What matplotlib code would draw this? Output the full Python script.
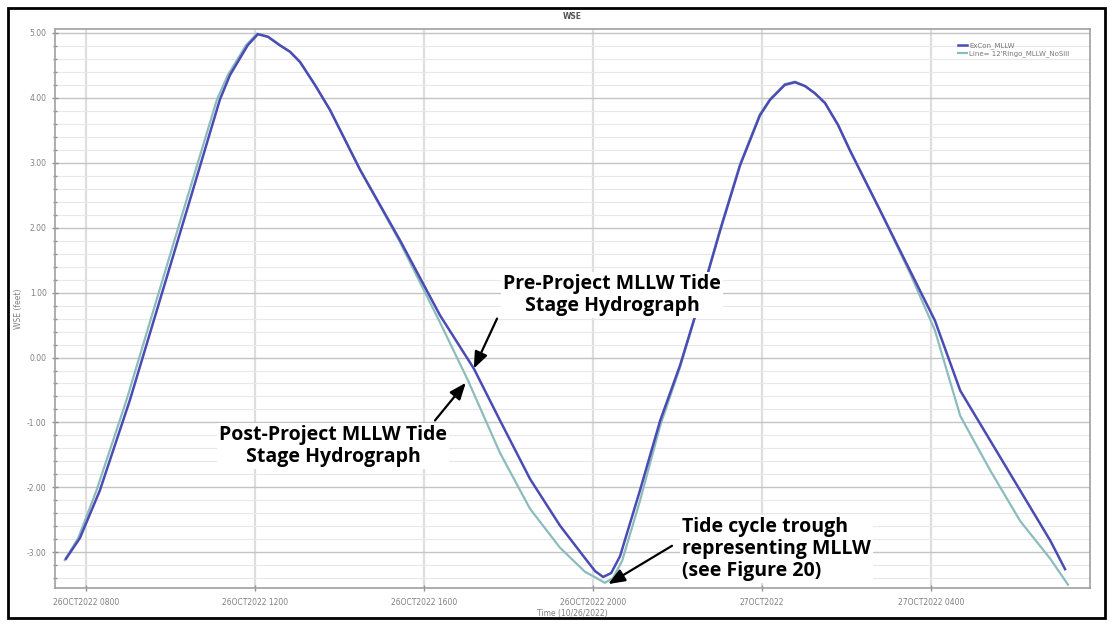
import matplotlib
matplotlib.use("Agg")
import matplotlib.pyplot as plt
from matplotlib.patches import Rectangle
from matplotlib.ticker import MultipleLocator

# ---- data (hours after 26OCT2022 00:00, WSE in feet) ----
pre_hours = [7.53, 7.86, 8.33, 9.04, 9.75, 10.46, 11.17, 11.41, 11.83, 12.07, 12.31, 12.59,
             12.83, 13.07, 13.42, 13.78, 14.49, 15.43, 16.38, 17.18, 17.80, 18.51, 19.22,
             19.81, 20.05, 20.24, 20.43, 20.64, 21.11, 21.59, 22.06, 22.53, 23.01, 23.48,
             23.95, 24.19, 24.54, 24.78, 25.02, 25.25, 25.49, 25.80, 26.08, 26.79, 27.50,
             28.09, 28.69, 29.40, 30.11, 30.82, 31.17]
pre_wse = [-3.10, -2.78, -2.05, -0.66, 0.88, 2.42, 3.97, 4.35, 4.81, 4.98, 4.94, 4.81,
           4.71, 4.55, 4.20, 3.81, 2.89, 1.81, 0.65, -0.17, -0.97, -1.87, -2.59,
           -3.09, -3.29, -3.38, -3.32, -3.06, -2.05, -0.97, -0.12, 0.88, 1.96, 2.96,
           3.73, 3.97, 4.20, 4.24, 4.18, 4.07, 3.92, 3.58, 3.19, 2.27, 1.34,
           0.57, -0.51, -1.28, -2.05, -2.82, -3.26]

post_hours = [7.50, 7.82, 8.25, 8.96, 9.67, 10.38, 11.10, 11.36, 11.79, 12.05, 12.31, 12.59,
              12.83, 13.07, 13.42, 13.78, 14.49, 15.43, 16.38, 17.04, 17.80, 18.51, 19.22,
              19.81, 20.09, 20.28, 20.47, 20.69, 21.11, 21.59, 22.06, 22.53, 23.01, 23.48,
              23.95, 24.19, 24.54, 24.78, 25.02, 25.25, 25.49, 25.80, 26.08, 26.79, 27.50,
              28.09, 28.69, 29.40, 30.11, 30.82, 31.24]
post_wse = [-3.12, -2.78, -2.05, -0.66, 0.88, 2.42, 3.97, 4.35, 4.81, 4.99, 4.94, 4.81,
            4.71, 4.55, 4.20, 3.81, 2.89, 1.78, 0.54, -0.35, -1.47, -2.33, -2.93,
            -3.30, -3.40, -3.47, -3.40, -3.13, -2.21, -1.05, -0.15, 0.88, 1.98, 2.98,
            3.75, 3.98, 4.21, 4.25, 4.18, 4.07, 3.92, 3.58, 3.19, 2.27, 1.30,
            0.42, -0.90, -1.74, -2.52, -3.10, -3.50]

series_names = ["ExCon_MLLW", "Line= 12'Ringo_MLLW_NoSill"]
x_tick_hours = [8, 12, 16, 20, 24, 28]
x_tick_labels = ["26OCT2022 0800", "26OCT2022 1200", "26OCT2022 1600",
                 "26OCT2022 2000", "27OCT2022", "27OCT2022 0400"]
y_ticks = [5.0, 4.0, 3.0, 2.0, 1.0, 0.0, -1.0, -2.0, -3.0]

W, H = 1113, 625
fig = plt.figure(figsize=(W / 100, H / 100), dpi=100)
ax = fig.add_axes([55 / W, 1 - 588 / H, (1090 - 55) / W, (588 - 29) / H])

blue = "#4b4bb4"
teal = "#8cbcbc"
ax.plot(post_hours, post_wse, color=teal, lw=1.6, zorder=3, label=series_names[1])
ax.plot(pre_hours, pre_wse, color=blue, lw=1.8, zorder=4, label=series_names[0])
h, l = ax.get_legend_handles_labels()
ax.legend(h[::-1], l[::-1], loc="upper right", bbox_to_anchor=(0.985, 0.985),
          frameon=False, fontsize=5, handlelength=1.2, labelcolor="#777777",
          borderaxespad=0.3, handletextpad=0.4, labelspacing=0.2)

ax.set_xlim(7.27, 31.76)
ax.set_ylim(-3.55, 5.06)
ax.set_xticks(x_tick_hours)
ax.set_xticklabels(x_tick_labels)
ax.set_yticks(y_ticks)
ax.set_yticklabels([f"{v:.2f}" for v in y_ticks])
ax.yaxis.set_minor_locator(MultipleLocator(0.2))

ax.grid(which="major", axis="y", color="#c4c4c4", lw=1.0)
ax.grid(which="minor", axis="y", color="#e8e8e8", lw=0.8)
ax.grid(which="major", axis="x", color="#dedede", lw=1.6)
ax.set_axisbelow(True)

for s in ax.spines.values():
    s.set_color("#a0a0a0")
    s.set_linewidth(1.2)
ax.tick_params(axis="both", which="major", labelsize=5.5, labelcolor="#808080",
               color="#909090", direction="inout", length=5, width=1)
ax.tick_params(axis="y", which="minor", color="#909090", direction="inout", length=3, width=1)
ax.tick_params(axis="x", which="major", pad=5)

ax.set_title("WSE", fontsize=5.5, fontweight="bold", color="#555555", pad=7)
ax.set_ylabel("WSE (feet)", fontsize=5.5, color="#808080", labelpad=3)
ax.set_xlabel("Time (10/26/2022)", fontsize=5.5, color="#808080", labelpad=1)

# annotations
afont = dict(family=["Open Sans", "DejaVu Sans"], fontweight="bold", fontsize=14.0, color="black")
bbox = dict(boxstyle="square,pad=0.12", fc="white", ec="none")
arrow = dict(arrowstyle="-|>,head_length=1.0,head_width=0.4", color="black", lw=1.6,
             shrinkA=0, shrinkB=0)

ax.text(20.45, 0.96, "Pre-Project MLLW Tide\nStage Hydrograph", ha="center", va="center",
        linespacing=1.12, bbox=bbox, zorder=6, **afont)
ax.annotate("", xy=(17.18, -0.17), xytext=(17.73, 0.60), arrowprops=arrow, zorder=7)

ax.text(13.85, -1.36, "Post-Project MLLW Tide\nStage Hydrograph", ha="center", va="center",
        linespacing=1.12, bbox=bbox, zorder=6, **afont)
ax.annotate("", xy=(16.99, -0.39), xytext=(16.26, -0.97), arrowprops=arrow, zorder=7)

ax.text(22.11, -2.95, "Tide cycle trough\nrepresenting MLLW\n(see Figure 20)", ha="left",
        va="center", linespacing=1.12, bbox=bbox, zorder=6, **afont)
ax.annotate("", xy=(20.36, -3.49), xytext=(21.87, -2.90), arrowprops=arrow, zorder=7)

# outer black frame
fig.patches.append(Rectangle((8 / W, 1 - 618 / H), (1105 - 8) / W, (618 - 8) / H,
                             transform=fig.transFigure, fill=False, ec="black", lw=2))

fig.savefig("out.png", dpi=100)
